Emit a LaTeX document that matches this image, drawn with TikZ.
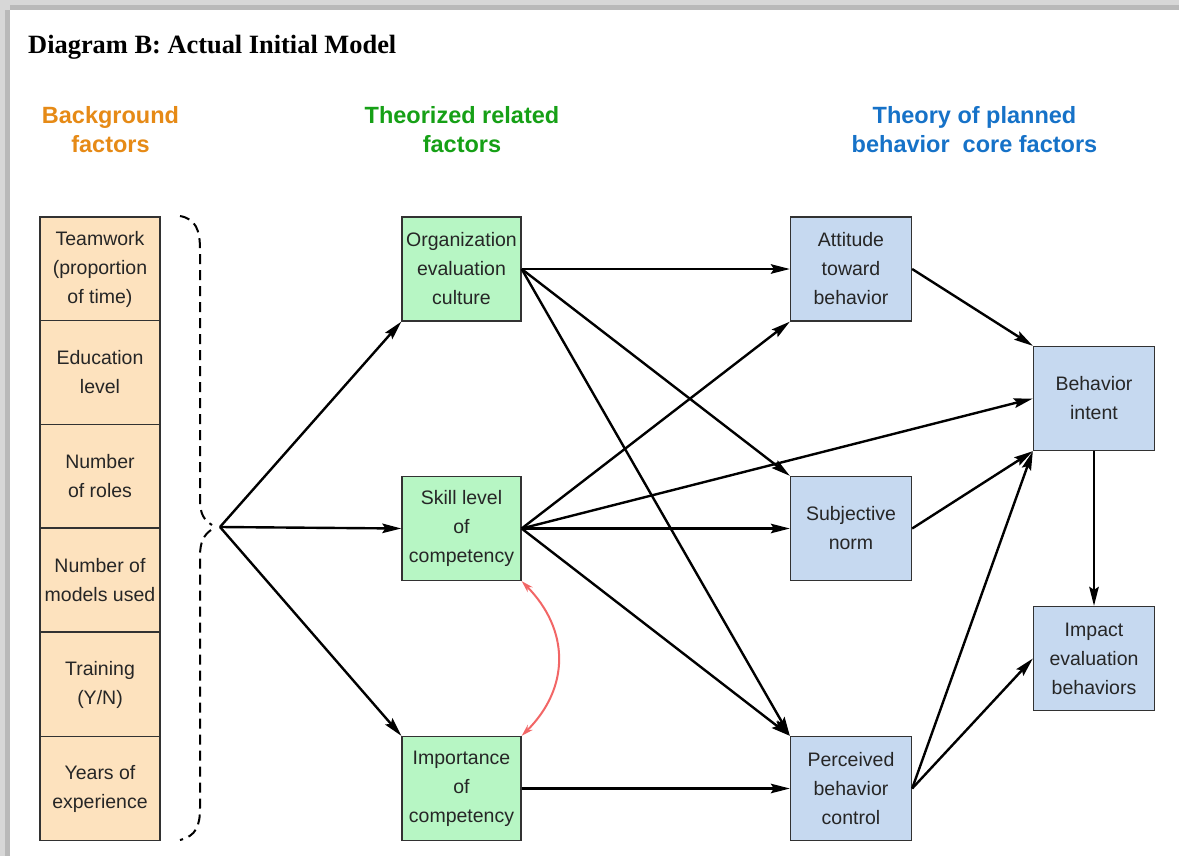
\documentclass[tikz,border=0pt]{standalone}
\usepackage{fontspec}
\setmainfont{Liberation Sans}
\newfontfamily\titlefont{Liberation Serif}
\usetikzlibrary{arrows.meta}
\definecolor{peach}{RGB}{253,226,190}
\definecolor{lgreen}{RGB}{183,246,196}
\definecolor{lblue}{RGB}{198,217,240}
\definecolor{hdorange}{RGB}{230,138,22}
\definecolor{hdgreen}{RGB}{22,160,22}
\definecolor{hdblue}{RGB}{22,114,200}
\definecolor{redarrow}{RGB}{242,102,102}
\definecolor{boxline}{RGB}{50,50,50}
\definecolor{frameA}{RGB}{215,215,215}
\definecolor{frameB}{RGB}{185,185,185}
\tikzset{
  factor/.style={draw=boxline, line width=1.3pt, inner sep=0pt, align=center,
    font=\fontsize{19.5}{29}\selectfont, text=black!85},
  bgbox/.style={factor, fill=peach, minimum width=120pt, minimum height=104.2pt},
  grbox/.style={factor, fill=lgreen, minimum width=119pt, minimum height=104pt},
  blbox/.style={factor, fill=lblue, minimum width=121pt, minimum height=104pt},
  header/.style={align=center, font=\bfseries\fontsize{23.5}{29}\selectfont},
  link/.style={draw=black, line width=2.4pt, -{Stealth[length=19pt,width=9.5pt,inset=3pt]}},
  corr/.style={draw=redarrow, line width=2pt, {Stealth[length=12pt,width=7pt]}-{Stealth[length=12pt,width=7pt]}},
  bracestyle/.style={draw=black, line width=2pt, dash pattern=on 10pt off 6pt}
}
\begin{document}
\begin{tikzpicture}[x=1pt,y=-1pt]
\useasboundingbox (0,0) rectangle (1179,856);
\fill[white] (0,0) rectangle (1179,856);
% frame
\fill[frameA] (0,0) rectangle (1179,10);
\fill[frameA] (0,0) rectangle (10,856);
\fill[frameB] (10,5) rectangle (1179,10);
\fill[frameB] (5,10) rectangle (10,856);

% title and headers
\node[anchor=base west, inner sep=0pt, font=\titlefont\bfseries\fontsize{26.4}{30}\selectfont] (title) at (28,54) {Diagram B: Actual Initial Model};
\node[header, text=hdorange] (hbg) at (110.5,129.5) {Background\\factors};
\node[header, text=hdgreen] (hth) at (462,129.5) {Theorized related\\factors};
\node[header, text=hdblue] (htp) at (974.5,129.5) {Theory of planned\\behavior \ core factors};

% background factors column
\node[bgbox] (b1) at (100,269) {Teamwork\\(proportion\\of time)};
\node[bgbox] (b2) at (100,372.5) {Education\\level};
\node[bgbox] (b3) at (100,476.5) {Number\\of roles};
\node[bgbox] (b4) at (100,580) {Number of\\models used};
\node[bgbox] (b5) at (100,684.5) {Training\\(Y/N)};
\node[bgbox] (b6) at (100,788.5) {Years of\\experience};

% brace
\draw[bracestyle] (180,216) .. controls (196,219) and (200,230) .. (200,250) -- (200,500) .. controls (200,514) and (204,520) .. (212,525);
\draw[bracestyle] (211,530) .. controls (204,535) and (200,542) .. (200,556) -- (200,808) .. controls (200,826) and (196,836) .. (180,840);
\coordinate (src) at (220,527);

% theorized related factors
\node[grbox] (org) at (461.5,269) {Organization\\evaluation\\culture};
\node[grbox] (skill) at (461.5,528.5) {Skill level\\of\\competency};
\node[grbox] (impo) at (461.5,788.5) {Importance\\of\\competency};

% TPB core factors
\node[blbox] (att) at (851,269) {Attitude\\toward\\behavior};
\node[blbox] (subj) at (851,528.5) {Subjective\\norm};
\node[blbox] (perc) at (851,788.5) {Perceived\\behavior\\control};
\node[blbox] (bi) at (1094,398.5) {Behavior\\intent};
\node[blbox] (impact) at (1094,658.5) {Impact\\evaluation\\behaviors};

% connectors
\draw[link] (src) -- (org.south west);
\draw[link] (src) -- (skill.west);
\draw[link] (src) -- (impo.north west);

\draw[link] (org.east) -- (att.west);
\draw[link] (org.east) -- (subj.north west);
\draw[link] (org.east) -- (perc.north west);

\draw[link] (skill.east) -- (att.south west);
\draw[link] (skill.east) -- (bi.west);
\draw[link] (skill.east) -- (subj.west);
\draw[link] (skill.east) -- (perc.north west);

\draw[link] (impo.east) -- (perc.west);

\draw[link] (att.east) -- (bi.north west);
\draw[link] (subj.east) -- (bi.south west);
\draw[link] (perc.east) -- (bi.south west);
\draw[link] (perc.east) -- (impact.west);
\draw[link] (bi.south) -- (impact.north);

\draw[corr] (skill.south east) .. controls (570,630) and (570,688) .. (impo.north east);
\end{tikzpicture}
\end{document}
